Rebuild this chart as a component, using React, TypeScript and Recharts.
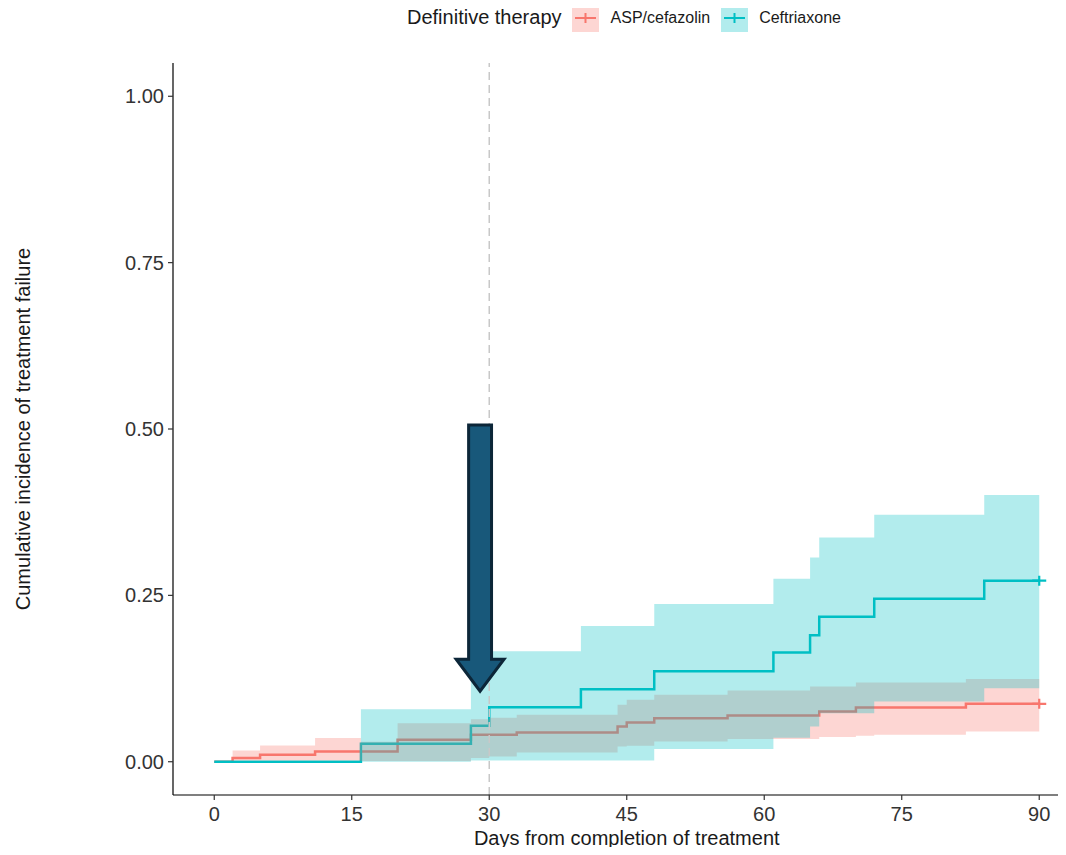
import React from 'react';
import { ComposedChart, Line, Area, XAxis, YAxis, ReferenceLine, ReferenceArea, Label } from 'recharts';

// ---------- data ----------
const groupNames = ['ASP/cefazolin', 'Ceftriaxone'];
const groupColors = ['#F8766D', '#00BFC4'];
const legendTitle = 'Definitive therapy';
const xAxisTitle = 'Days from completion of treatment';
const yAxisTitle = 'Cumulative incidence of treatment failure';
const xTicks = [0, 15, 30, 45, 60, 75, 90];
const yTicks = [0, 0.25, 0.5, 0.75, 1];

const aspDays = [0, 2, 5, 11, 16, 20, 28, 30, 33, 44, 45, 48, 56, 65, 66, 70, 72, 82, 90];
const aspEstimate = [0, 0.0055, 0.0105, 0.0155, 0.0155, 0.033, 0.0405, 0.0405, 0.044, 0.053, 0.059, 0.0655, 0.0695, 0.0695, 0.0755, 0.0815, 0.0815, 0.087, 0.087];
const aspLower = [0, 0.002, 0.002, 0.002, 0.001, 0.001, 0.0055, 0.008, 0.014, 0.023, 0.024, 0.0305, 0.034, 0.034, 0.037, 0.039, 0.0405, 0.0455, 0.0455];
const aspUpper = [0, 0.017, 0.0245, 0.0355, 0.03, 0.058, 0.064, 0.066, 0.0705, 0.0855, 0.093, 0.1005, 0.107, 0.113, 0.113, 0.119, 0.119, 0.1245, 0.1245];

const cefDays = [0, 16, 28, 30, 40, 48, 61, 65, 66, 72, 84, 90];
const cefEstimate = [0, 0.027, 0.054, 0.082, 0.109, 0.136, 0.164, 0.19, 0.218, 0.245, 0.272, 0.272];
const cefLower = [0, 0, 0.002, 0.002, 0.002, 0.019, 0.036, 0.053, 0.073, 0.0905, 0.1105, 0.1105];
const cefUpper = [0, 0.079, 0.166, 0.166, 0.204, 0.237, 0.275, 0.307, 0.337, 0.371, 0.401, 0.401];

const referenceDay = 30;
const arrowDay = 29;
const arrowHalfWidthDays = 1.25;
const arrowTipValue = 0.106;
const arrowTopValue = 0.506;

// axis ranges (ggplot-style expansion, panel cropped at right)
const X_MIN = -4.5;
const X_MAX = 92.92;
const Y_MIN = -0.05;
const Y_MAX = 1.05;

const build = (days: number[], est: number[], lo: number[], hi: number[]) =>
  days.map((d, i) => ({ day: d, est: est[i], ci: [lo[i], hi[i]] }));

const aspData = build(aspDays, aspEstimate, aspLower, aspUpper);
const cefData = build(cefDays, cefEstimate, cefLower, cefUpper);

const FONT = '"Liberation Sans", Arial, Helvetica, sans-serif';

const censorDot = (color: string, lastIndex: number) => (props: any) => {
  const { cx, cy, index } = props;
  if (index !== lastIndex || cx == null || cy == null) return <g key={`c-${index}`} />;
  return (
    <path
      key={`c-${index}`}
      d={`M${cx - 7},${cy}H${cx + 7}M${cx},${cy - 5}V${cy + 5}`}
      stroke={color}
      strokeWidth={2.2}
      fill="none"
    />
  );
};

const ArrowShape = (props: any) => {
  const { x, y, width, height } = props;
  if (x == null) return <g />;
  const headExtra = 12.5;
  const headH = 32;
  const bottom = y + height;
  const shaftBottom = bottom - headH;
  const cx = x + width / 2;
  const d = `M${x},${y} H${x + width} V${shaftBottom} H${x + width + headExtra} L${cx},${bottom} L${x - headExtra},${shaftBottom} H${x} Z`;
  return <path d={d} fill="#18587A" stroke="#0C2638" strokeWidth={3} strokeLinejoin="miter" />;
};

const renderXTitle = (props: any) => {
  const vb = props.viewBox || {};
  const cx = vb.x + ((45 - X_MIN) / (X_MAX - X_MIN)) * vb.width;
  return (
    <text x={cx} y={vb.y + 50} textAnchor="middle" fontSize={20} fill="#1a1a1a" fontFamily={FONT}>
      {xAxisTitle}
    </text>
  );
};

const renderYTitle = (props: any) => {
  const vb = props.viewBox || {};
  const cy = vb.y + vb.height / 2;
  const x = vb.x + 30;
  return (
    <text
      x={x}
      y={cy}
      transform={`rotate(-90, ${x}, ${cy})`}
      textAnchor="middle"
      fontSize={20}
      fill="#1a1a1a"
      fontFamily={FONT}
    >
      {yAxisTitle}
    </text>
  );
};

const LegendKey = ({ color }: { color: string }) => (
  <svg width={27} height={28} style={{ display: 'block' }}>
    <rect x={0} y={0} width={27} height={28} fill={color} fillOpacity={0.3} />
    <path d="M3,14H24M13.5,9V19" stroke={color} strokeWidth={2} />
  </svg>
);

export default function App() {
  return (
    <div style={{ margin: -8, width: 1066, height: 855, position: 'relative', background: '#fff', fontFamily: FONT }}>
      <div
        style={{
          position: 'absolute',
          left: 407,
          top: 3,
          height: 29,
          display: 'flex',
          alignItems: 'center',
          color: '#1a1a1a',
          whiteSpace: 'nowrap',
        }}
      >
        <span style={{ fontSize: 20, marginRight: 10 }}>{legendTitle}</span>
        <LegendKey color={groupColors[0]} />
        <span style={{ fontSize: 16, marginLeft: 12, marginRight: 11 }}>{groupNames[0]}</span>
        <LegendKey color={groupColors[1]} />
        <span style={{ fontSize: 16, marginLeft: 11 }}>{groupNames[1]}</span>
      </div>
      <ComposedChart width={1066} height={855} margin={{ top: 63, right: 0, bottom: 0, left: 0 }}>
        <XAxis
          type="number"
          dataKey="day"
          domain={[X_MIN, X_MAX]}
          allowDataOverflow
          ticks={xTicks}
          interval={0}
          height={60}
          tickSize={5}
          tickMargin={7}
          axisLine={{ stroke: '#000', strokeWidth: 1.2 }}
          tickLine={{ stroke: '#333', strokeWidth: 1.2 }}
          tick={{ fontSize: 20, fill: '#333', fontFamily: FONT }}
          label={<Label content={renderXTitle} />}
        />
        <YAxis
          type="number"
          domain={[Y_MIN, Y_MAX]}
          allowDataOverflow
          ticks={yTicks}
          interval={0}
          width={173}
          tickSize={5}
          tickMargin={4}
          tickFormatter={(v: number) => v.toFixed(2)}
          axisLine={{ stroke: '#000', strokeWidth: 1.2 }}
          tickLine={{ stroke: '#333', strokeWidth: 1.2 }}
          tick={{ fontSize: 20, fill: '#333', fontFamily: FONT }}
          label={<Label content={renderYTitle} />}
        />
        <Line
          data={aspData}
          dataKey="est"
          type="stepAfter"
          stroke={groupColors[0]}
          strokeWidth={2.5}
          dot={censorDot(groupColors[0], aspData.length - 1)}
          activeDot={false}
          isAnimationActive={false}
          zIndex={100}
        />
        <Line
          data={cefData}
          dataKey="est"
          type="stepAfter"
          stroke={groupColors[1]}
          strokeWidth={2.5}
          dot={censorDot(groupColors[1], cefData.length - 1)}
          activeDot={false}
          isAnimationActive={false}
          zIndex={101}
        />
        <Area
          data={aspData}
          dataKey="ci"
          type="stepAfter"
          stroke="none"
          fill={groupColors[0]}
          fillOpacity={0.3}
          activeDot={false}
          isAnimationActive={false}
          zIndex={200}
        />
        <Area
          data={cefData}
          dataKey="ci"
          type="stepAfter"
          stroke="none"
          fill={groupColors[1]}
          fillOpacity={0.3}
          activeDot={false}
          isAnimationActive={false}
          zIndex={201}
        />
        <ReferenceLine
          x={referenceDay}
          stroke="#C8C8C8"
          strokeWidth={1.5}
          strokeDasharray="8 5"
          zIndex={300}
        />
        <ReferenceArea
          x1={arrowDay - arrowHalfWidthDays}
          x2={arrowDay + arrowHalfWidthDays}
          y1={arrowTipValue}
          y2={arrowTopValue}
          shape={<ArrowShape />}
          zIndex={400}
        />
      </ComposedChart>
    </div>
  );
}
